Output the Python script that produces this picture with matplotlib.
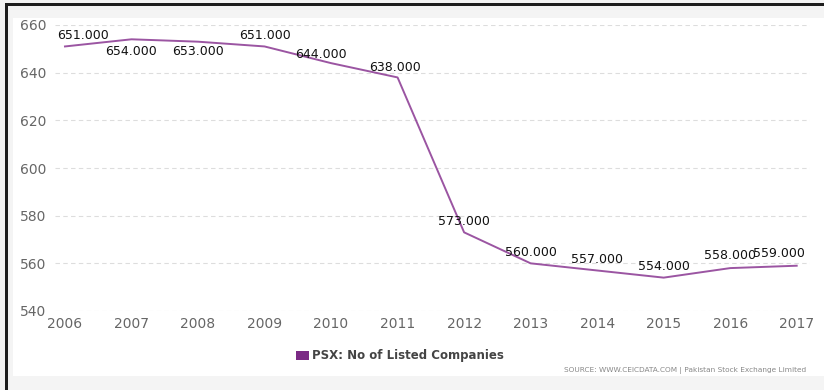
import matplotlib.pyplot as plt
from matplotlib.patches import Rectangle, Patch

# data
years = [2006, 2007, 2008, 2009, 2010, 2011, 2012, 2013, 2014, 2015, 2016, 2017]
companies = [651, 654, 653, 651, 644, 638, 573, 560, 557, 554, 558, 559]
yticks = [540, 560, 580, 600, 620, 640, 660]
series_name = 'PSX: No of Listed Companies'
source_text = 'SOURCE: WWW.CEICDATA.COM | Pakistan Stock Exchange Limited'

# label offsets in points (dx, dy) to mimic the reference placement
label_offsets = [(13, 8), (0, -9), (0, -7), (0, 8), (-7, 6), (-2, 7),
                 (0, 8), (0, 8), (0, 8), (0, 8), (0, 9), (-13, 9)]

line_color = '#9b55a2'

fig = plt.figure(figsize=(8.24, 3.9), dpi=100)
fig.patch.set_facecolor('white')

# outer frame: light grey panel with dark top/left border, grey band at bottom
fig.patches.append(Rectangle((0, 0), 1, 1, transform=fig.transFigure,
                             facecolor='#f4f4f4', edgecolor='none', zorder=-3))
fig.patches.append(Rectangle((13 / 824, 14 / 390), 1 - 13 / 824, 1 - 32 / 390,
                             transform=fig.transFigure, facecolor='white',
                             edgecolor='none', zorder=-2))
fig.patches.append(Rectangle((5 / 824, 0), 3 / 824, 1 - 3 / 390,
                             transform=fig.transFigure, facecolor='#1e1e1e',
                             edgecolor='none', zorder=-1))
fig.patches.append(Rectangle((5 / 824, 1 - 6 / 390), 1, 3 / 390,
                             transform=fig.transFigure, facecolor='#1e1e1e',
                             edgecolor='none', zorder=-1))

ax = fig.add_axes([55 / 824, 1 - 311 / 390, 755 / 824, 286 / 390])
ax.set_facecolor('none')
ax.plot(years, companies, color=line_color, linewidth=1.4)

for x, y, (dx, dy) in zip(years, companies, label_offsets):
    ax.annotate(f'{y:.3f}', (x, y), xytext=(dx, dy), textcoords='offset points',
                ha='center', va='center', fontsize=9, color='#111111')

ax.set_xlim(2005.85, 2017.2)
ax.set_ylim(540, 660)
ax.set_yticks(yticks)
ax.set_xticks(years)
ax.grid(axis='y', color='#dddddd', linestyle=(0, (4, 3)), linewidth=0.8)
ax.set_axisbelow(True)
for s in ax.spines.values():
    s.set_visible(False)
ax.tick_params(axis='both', length=0, labelsize=10, labelcolor='#666666')
ax.tick_params(axis='y', pad=6)
ax.tick_params(axis='x', pad=4)

handle = Patch(facecolor='#7b2a85', edgecolor='none')
fig.legend([handle], [series_name], loc='center', bbox_to_anchor=(400 / 824, 1 - 356 / 390),
           frameon=False, handlelength=1.1, handleheight=0.9, handletextpad=0.3,
           prop={'size': 8.5, 'weight': 'bold'}, labelcolor='#444444')

fig.text(806 / 824, 1 - 370 / 390, source_text, ha='right', va='center',
         fontsize=5.3, color='#888888')

fig.savefig('out.png', dpi=100)
